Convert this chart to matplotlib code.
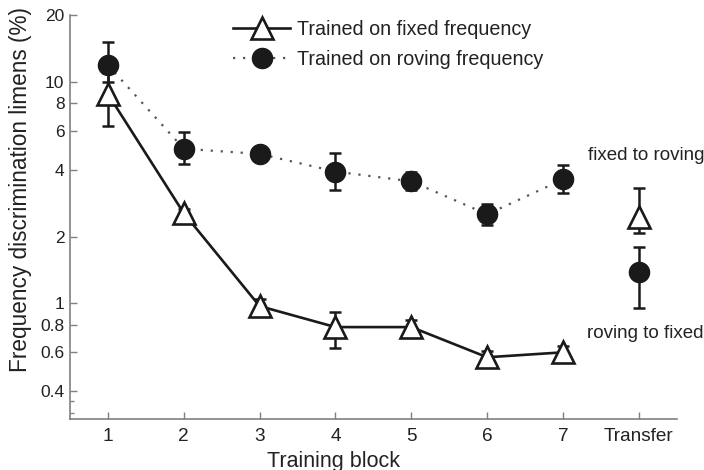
import numpy as np
import matplotlib
matplotlib.use('Agg')
import matplotlib.pyplot as plt
from matplotlib.ticker import NullFormatter, FixedLocator

plt.rcParams.update({
    'font.family': ['Liberation Sans', 'DejaVu Sans'],
    'font.size': 13,
    'text.color': '#222222',
    'axes.labelcolor': '#222222',
    'xtick.color': '#808080', 'ytick.color': '#808080',
    'xtick.labelcolor': '#222222', 'ytick.labelcolor': '#222222',
})

blocks = [1, 2, 3, 4, 5, 6, 7]
fixed = [8.8, 2.55, 0.97, 0.78, 0.78, 0.57, 0.60]
fixed_lo = [6.3, 2.45, 0.88, 0.63, 0.71, 0.52, 0.55]
fixed_hi = [11.0, 2.65, 1.04, 0.91, 0.84, 0.61, 0.64]
roving = [11.9, 4.98, 4.72, 3.93, 3.55, 2.52, 3.62]
roving_lo = [10.0, 4.23, 4.45, 3.26, 3.23, 2.25, 3.13]
roving_hi = [15.1, 5.95, 4.95, 4.78, 3.93, 2.80, 4.19]

transfer_x = 8
tr_fixed, tr_fixed_lo, tr_fixed_hi = 2.45, 2.07, 3.3
tr_roving, tr_roving_lo, tr_roving_hi = 1.38, 0.95, 1.79

xtick_pos = [1, 2, 3, 4, 5, 6, 7, 8]
xtick_lab = ['1', '2', '3', '4', '5', '6', '7', 'Transfer']
ytick_pos = [0.4, 0.6, 0.8, 1, 2, 4, 6, 8, 10, 20]
ytick_lab = ['0.4', '0.6', '0.8', '1', '2', '4', '6', '8', '10', '20']
yminor = [0.32, 0.36]

K = '#1a1a1a'
fig = plt.figure(figsize=(7.04, 4.70), dpi=100)
ax = fig.add_axes([0.0994, 0.1085, 0.862, 0.8595])

def err(v, lo, hi):
    v = np.atleast_1d(v); lo = np.atleast_1d(lo); hi = np.atleast_1d(hi)
    return np.vstack([v - lo, hi - v])

# error bars
eb = dict(fmt='none', ecolor=K, elinewidth=1.8, capsize=4, capthick=1.8, zorder=2)
ax.errorbar(blocks, fixed, yerr=err(np.array(fixed), np.array(fixed_lo), np.array(fixed_hi)), **eb)
ax.errorbar(blocks, roving, yerr=err(np.array(roving), np.array(roving_lo), np.array(roving_hi)), **eb)
ax.errorbar([transfer_x], [tr_fixed], yerr=err(tr_fixed, tr_fixed_lo, tr_fixed_hi), **eb)
ax.errorbar([transfer_x], [tr_roving], yerr=err(tr_roving, tr_roving_lo, tr_roving_hi), **eb)

ax.plot(blocks, roving, linestyle=(0, (1, 3.5)), color='#555555', lw=1.6,
        marker='o', ms=14.5, mfc=K, mec=K, label='Trained on roving frequency', zorder=3)
ax.plot(blocks, fixed, '-', color=K, lw=1.9, marker='^', ms=15.5, mfc='white', mec=K, mew=1.9,
        label='Trained on fixed frequency', zorder=4)
ax.plot([transfer_x], [tr_fixed], linestyle='none', marker='^', ms=15.5, mfc='white', mec=K, mew=1.9, zorder=4)
ax.plot([transfer_x], [tr_roving], linestyle='none', marker='o', ms=14.5, mfc=K, mec=K, zorder=3)

ax.text(8.1, 4.65, 'fixed to roving', ha='center', va='center', fontsize=13.5)
ax.text(8.08, 0.73, 'roving to fixed', ha='center', va='center', fontsize=13.5)

ax.set_yscale('log')
ax.set_ylim(0.3, 20)
ax.set_xlim(0.5, 8.5)
ax.yaxis.set_major_locator(FixedLocator(ytick_pos))
ax.set_yticklabels(ytick_lab)
ax.yaxis.set_minor_locator(FixedLocator(yminor))
ax.yaxis.set_minor_formatter(NullFormatter())
ax.set_xticks(xtick_pos)
ax.set_xticklabels(xtick_lab)
ax.tick_params(axis='both', direction='in', length=5, width=1)
ax.tick_params(axis='y', labelsize=12.5, pad=4)
ax.tick_params(axis='x', labelsize=13.7, pad=6.5)
ax.tick_params(axis='y', which='minor', direction='in', length=3, width=1)

for s in ['top', 'right']:
    ax.spines[s].set_visible(False)
for s in ['left', 'bottom']:
    ax.spines[s].set_color('#808080')
    ax.spines[s].set_linewidth(1.2)

ax.set_xlabel('Training block', fontsize=15.5)
ax.xaxis.set_label_coords(0.435, -0.078)
ax.set_ylabel('Frequency discrimination limens (%)', fontsize=16.3)
ax.yaxis.set_label_coords(-0.062, 0.569)

h, l = ax.get_legend_handles_labels()
ax.legend(h[::-1], l[::-1], loc='upper left', bbox_to_anchor=(0.269, 0.988), frameon=False,
          fontsize=14.2, handlelength=2.9, handletextpad=0.35, labelspacing=0.55, borderpad=0,
          borderaxespad=0)

fig.savefig('out.png', dpi=100)
